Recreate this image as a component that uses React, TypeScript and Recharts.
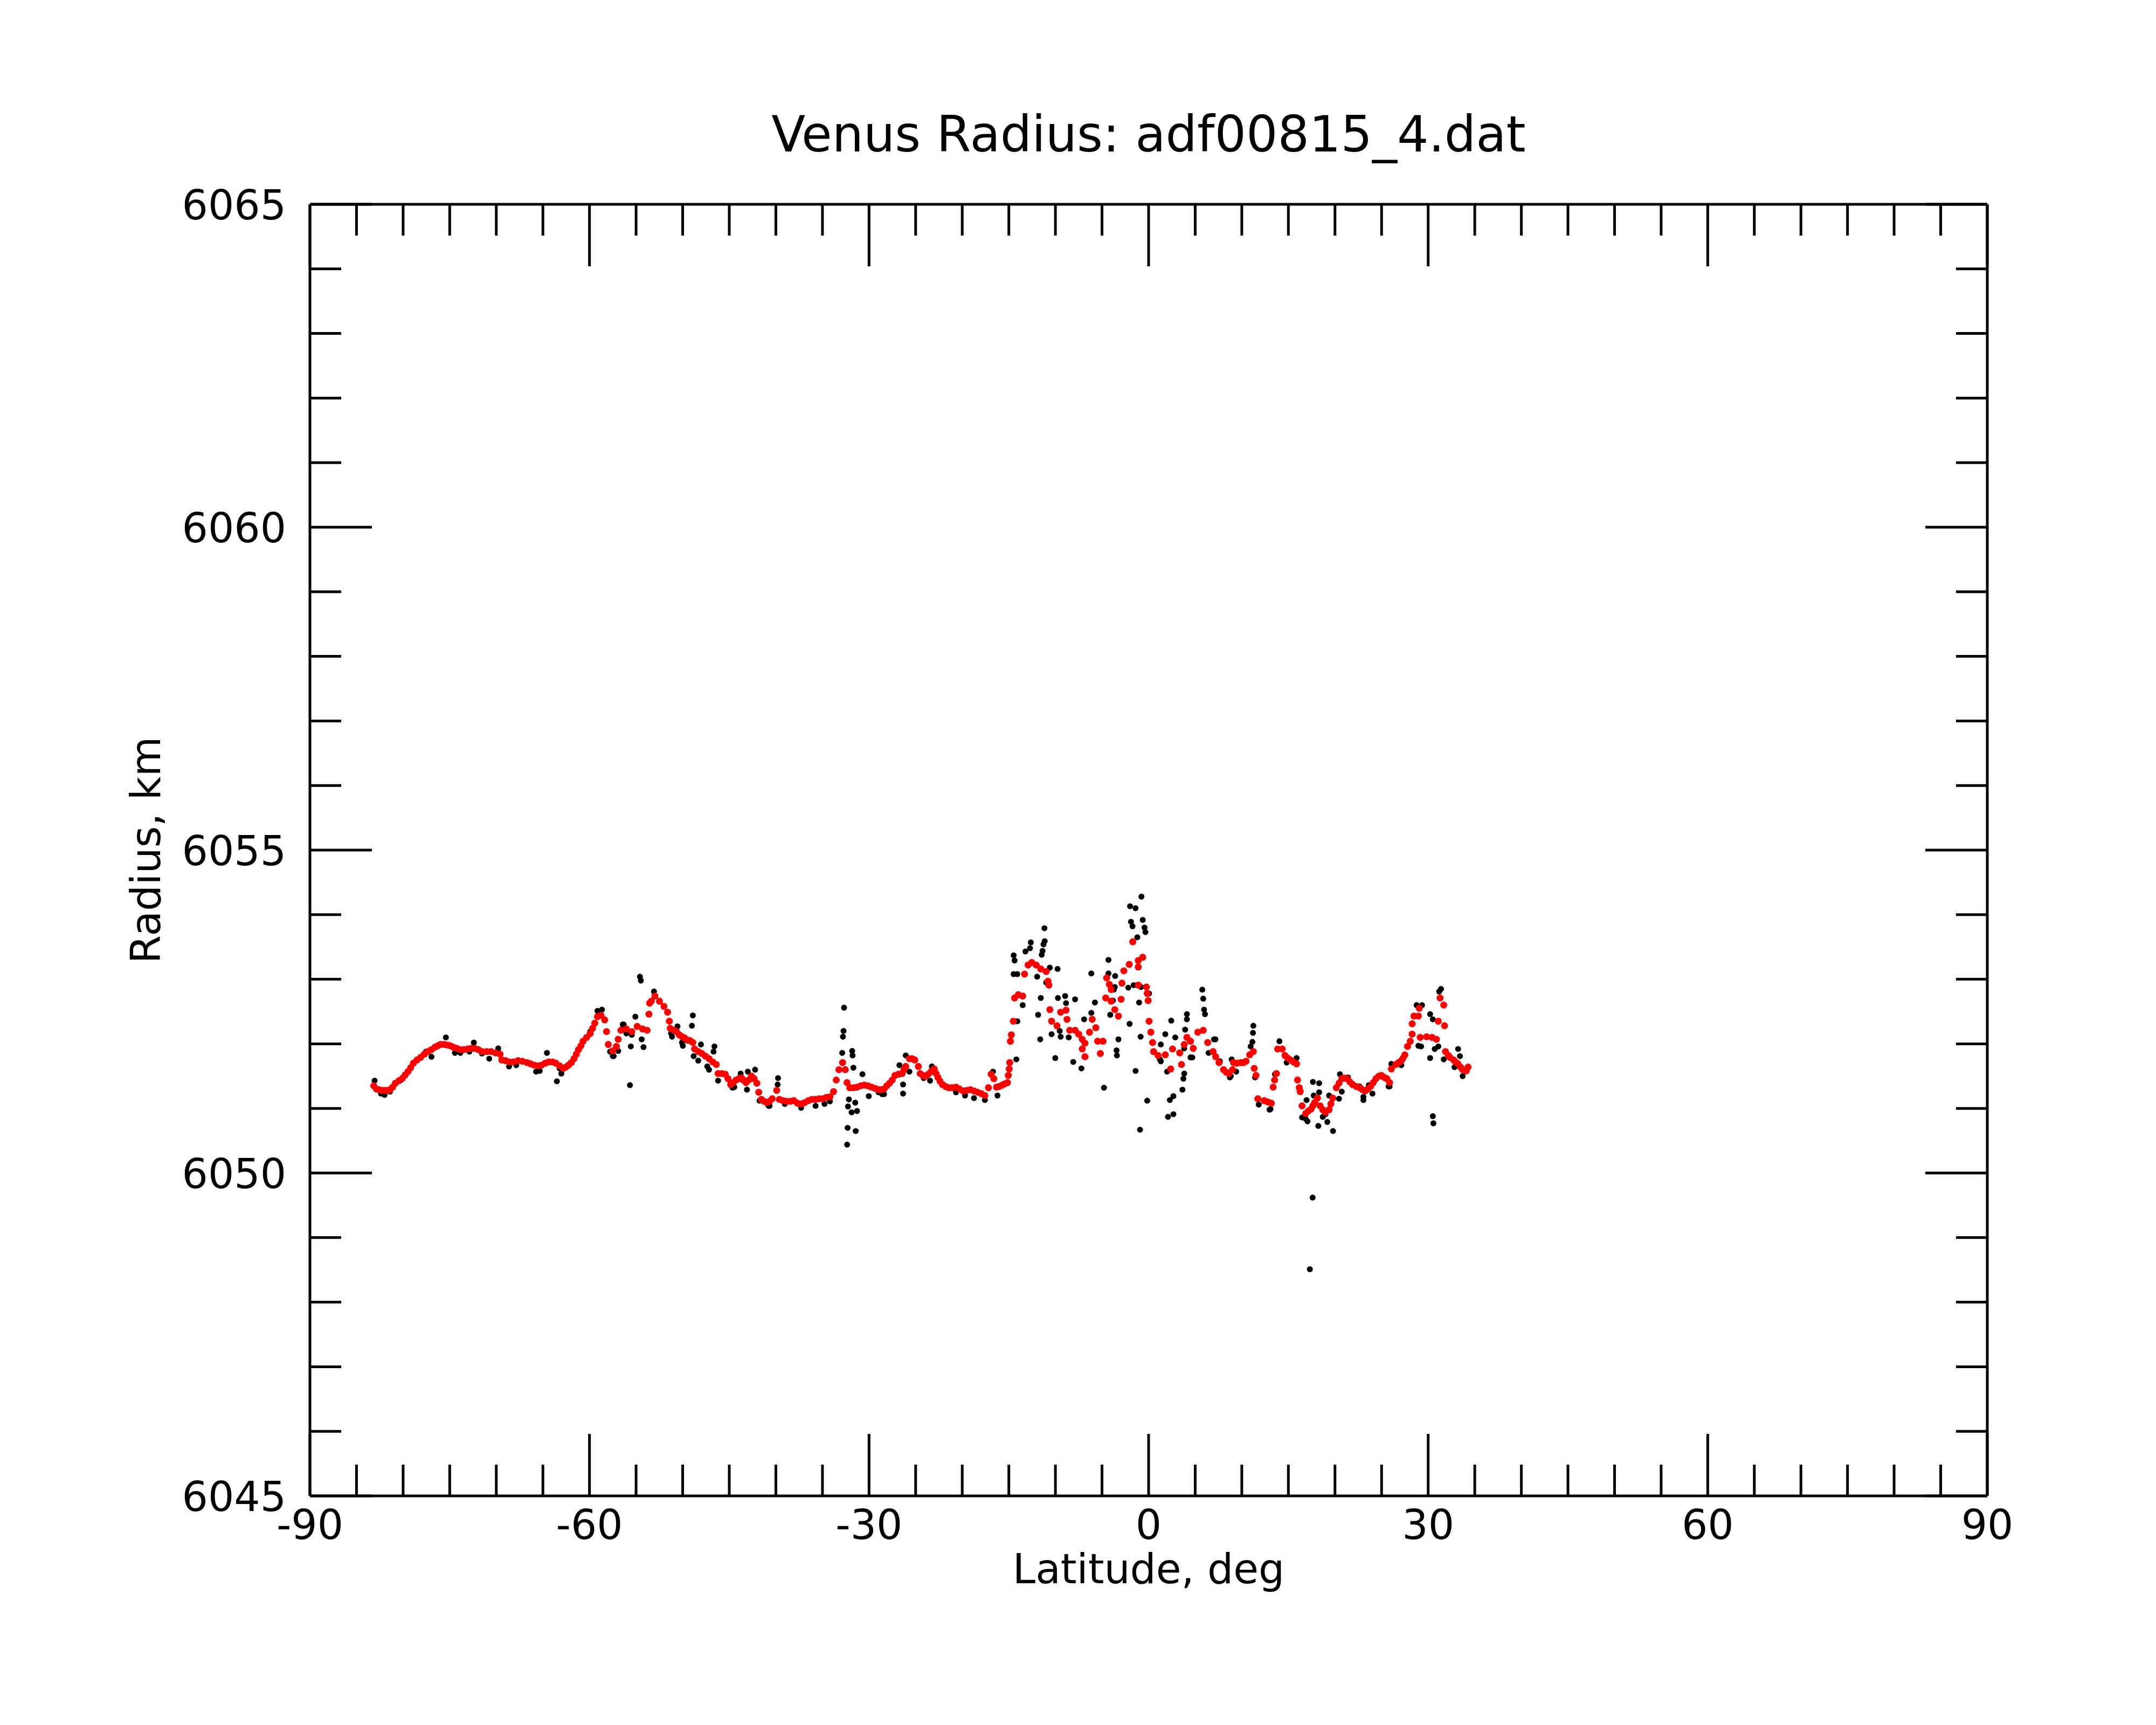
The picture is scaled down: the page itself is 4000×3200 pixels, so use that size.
import { Scatter, ScatterChart, XAxis, YAxis } from "recharts";

const FONT = "DejaVu Sans";

const latTicks = [
    -90, -85, -80, -75, -70, -65, -60, -55, -50, -45, -40, -35, -30, -25, -20, -15, -10, -5, 0,
    5, 10, 15, 20, 25, 30, 35, 40, 45, 50, 55, 60, 65, 70, 75, 80, 85, 90,
];
const latLabels = [-90, -60, -30, 0, 30, 60, 90];

const radiusTicks = [
    6045, 6046, 6047, 6048, 6049, 6050, 6051, 6052, 6053, 6054, 6055, 6056, 6057, 6058, 6059,
    6060, 6061, 6062, 6063, 6064, 6065,
];
const radiusLabels = [6045, 6050, 6055, 6060, 6065];

// [latitude, radius] of the smoothed (red) profile, south part
const smoothedSouth: [number, number][] = [
    [-83.15, 6051.35], [-82.86, 6051.3], [-82.57, 6051.29], [-82.28, 6051.28], [-81.99, 6051.28],
    [-81.7, 6051.28], [-81.41, 6051.29], [-81.12, 6051.33], [-80.83, 6051.39], [-80.44, 6051.43],
    [-80.06, 6051.47], [-79.77, 6051.52], [-79.48, 6051.57], [-79.19, 6051.63], [-78.9, 6051.7],
    [-78.51, 6051.75], [-78.12, 6051.79], [-77.73, 6051.84], [-77.35, 6051.88], [-76.96, 6051.91],
    [-76.57, 6051.95], [-76.28, 6051.97], [-75.99, 6051.99], [-75.6, 6051.99], [-75.22, 6051.98],
    [-74.93, 6051.97], [-74.63, 6051.95], [-74.25, 6051.93], [-73.86, 6051.91], [-73.47, 6051.91],
    [-73.09, 6051.92], [-72.7, 6051.93], [-72.31, 6051.93], [-71.92, 6051.91], [-71.54, 6051.88],
    [-71.05, 6051.88], [-70.57, 6051.88], [-70.08, 6051.86], [-69.6, 6051.84], [-69.41, 6051.75],
    [-69.02, 6051.74], [-68.63, 6051.72], [-68.15, 6051.72], [-67.66, 6051.74], [-67.18, 6051.73],
    [-66.7, 6051.71], [-66.31, 6051.69], [-65.92, 6051.67], [-65.53, 6051.66], [-65.15, 6051.67],
    [-64.76, 6051.7], [-64.37, 6051.72], [-63.98, 6051.72], [-63.6, 6051.7], [-63.21, 6051.66],
    [-62.82, 6051.62], [-62.53, 6051.64], [-62.24, 6051.67], [-61.95, 6051.71], [-61.66, 6051.77],
    [-61.41, 6051.84], [-61.18, 6051.91], [-60.92, 6051.97], [-60.69, 6052.04], [-60.3, 6052.1],
    [-59.92, 6052.16], [-59.67, 6052.24], [-59.43, 6052.32], [-59.14, 6052.42], [-58.76, 6052.44],
    [-58.37, 6052.37], [-58.17, 6052.19], [-57.98, 6051.99], [-57.5, 6051.89], [-57.11, 6051.96],
    [-56.92, 6052.07], [-56.63, 6052.21], [-56.04, 6052.23], [-55.46, 6052.19], [-54.88, 6052.27],
    [-54.3, 6052.23], [-53.82, 6052.21], [-53.62, 6052.46], [-53.55, 6052.63], [-53.37, 6052.66],
    [-52.98, 6052.74], [-52.49, 6052.66], [-52.01, 6052.58], [-51.62, 6052.49], [-51.43, 6052.35],
    [-51.33, 6052.24], [-50.95, 6052.21], [-50.66, 6052.19], [-50.36, 6052.14], [-50.07, 6052.11],
    [-49.78, 6052.09], [-49.49, 6052.06], [-49.2, 6052.05], [-48.91, 6052.02], [-48.72, 6051.92],
    [-48.33, 6051.88], [-47.94, 6051.85], [-47.56, 6051.81], [-47.17, 6051.77], [-46.78, 6051.72],
    [-46.39, 6051.68], [-46.2, 6051.54], [-45.81, 6051.54], [-45.43, 6051.53], [-45.14, 6051.46],
    [-44.85, 6051.37], [-44.56, 6051.4], [-44.27, 6051.44], [-43.97, 6051.46], [-43.68, 6051.47],
    [-43.49, 6051.44], [-43.2, 6051.4], [-42.91, 6051.44], [-42.62, 6051.5], [-42.33, 6051.46],
    [-42.04, 6051.39], [-41.84, 6051.25], [-41.55, 6051.14], [-41.26, 6051.11], [-40.97, 6051.09],
    [-40.68, 6051.11], [-40.39, 6051.15], [-39.91, 6051.28], [-39.62, 6051.14], [-39.23, 6051.12],
    [-38.84, 6051.11], [-38.45, 6051.11], [-38.07, 6051.12], [-37.68, 6051.08], [-37.29, 6051.07],
    [-36.91, 6051.09], [-36.52, 6051.12], [-36.13, 6051.14], [-35.74, 6051.14], [-35.36, 6051.15],
    [-34.97, 6051.15], [-34.58, 6051.17], [-34.2, 6051.18], [-33.81, 6051.26], [-33.52, 6051.44],
    [-33.23, 6051.6], [-32.84, 6051.71], [-32.55, 6051.6], [-32.36, 6051.4], [-32.07, 6051.32],
    [-31.68, 6051.32], [-31.29, 6051.33], [-30.9, 6051.35], [-30.52, 6051.36], [-30.13, 6051.35],
    [-29.74, 6051.33], [-29.35, 6051.31], [-28.97, 6051.29], [-28.68, 6051.29], [-28.39, 6051.3],
    [-28.1, 6051.35], [-27.8, 6051.39], [-27.51, 6051.44], [-27.22, 6051.51], [-26.84, 6051.53],
    [-26.45, 6051.54], [-26.26, 6051.6], [-26.06, 6051.65], [-25.67, 6051.77], [-25.38, 6051.77],
    [-25.09, 6051.75], [-24.71, 6051.65], [-24.51, 6051.54], [-24.22, 6051.51], [-23.93, 6051.5],
    [-23.64, 6051.53], [-23.35, 6051.57],
];

// smoothed profile, equatorial part
const smoothedEquator: [number, number][] = [
    [-23.0, 6051.61], [-22.8, 6051.54], [-22.61, 6051.48], [-22.38, 6051.42], [-22.13, 6051.37],
    [-21.8, 6051.34], [-21.45, 6051.32], [-21.06, 6051.32], [-20.67, 6051.33], [-20.29, 6051.3],
    [-19.9, 6051.27], [-19.51, 6051.28], [-19.12, 6051.29], [-18.74, 6051.27], [-18.35, 6051.25],
    [-17.96, 6051.23], [-17.57, 6051.2], [-17.19, 6051.32], [-16.9, 6051.53], [-16.61, 6051.46],
    [-16.32, 6051.33], [-16.03, 6051.34], [-15.73, 6051.36], [-15.44, 6051.38], [-15.15, 6051.4],
    [-15.06, 6051.51], [-14.96, 6051.61], [-14.9, 6051.71], [-14.83, 6052.04], [-14.73, 6052.14],
    [-14.51, 6052.35], [-14.38, 6052.71], [-13.99, 6052.76], [-13.51, 6052.74], [-13.31, 6053.08],
    [-12.93, 6053.22], [-12.54, 6053.26], [-12.06, 6053.22], [-11.57, 6053.16], [-10.99, 6053.12],
    [-10.8, 6052.97], [-10.7, 6052.91], [-10.6, 6052.53], [-10.41, 6052.35], [-9.83, 6052.28],
    [-9.44, 6052.49], [-8.86, 6052.52], [-8.76, 6052.38], [-8.47, 6052.21], [-7.89, 6052.21],
    [-7.5, 6052.15], [-7.12, 6052.07], [-7.12, 6051.92], [-6.83, 6052.01], [-6.83, 6051.8],
    [-6.34, 6052.18], [-6.05, 6052.38], [-5.66, 6052.25], [-5.47, 6052.04], [-5.18, 6051.85],
    [-4.89, 6052.04], [-4.6, 6052.71], [-4.5, 6053.02], [-4.21, 6052.92], [-4.02, 6052.84],
    [-4.02, 6052.66], [-3.63, 6052.53], [-3.24, 6052.43], [-2.95, 6052.69], [-2.86, 6052.94],
    [-2.66, 6053.13], [-2.08, 6053.23], [-1.7, 6053.58], [-1.11, 6053.29], [-1.11, 6053.19],
    [-1.11, 6052.91], [-0.63, 6053.34], [-0.24, 6052.88], [-0.15, 6052.78], [-0.05, 6052.67],
    [0.05, 6052.35], [0.24, 6052.18], [0.43, 6052.02], [0.53, 6051.88], [1.02, 6051.82],
    [1.79, 6051.83], [2.37, 6051.61], [2.57, 6051.92], [3.34, 6051.86], [3.53, 6051.68],
    [3.82, 6051.99], [4.11, 6052.1], [4.5, 6052.04], [4.79, 6051.93], [5.28, 6052.18],
    [5.86, 6052.21], [6.34, 6052.02], [6.92, 6051.88],
];

// smoothed profile, north part
const smoothedNorth: [number, number][] = [
    [7.2, 6051.8], [7.56, 6051.71], [8.04, 6051.6], [8.33, 6051.56], [8.62, 6051.54],
    [9.01, 6051.6], [9.11, 6051.71], [9.49, 6051.7], [9.88, 6051.71], [10.17, 6051.71],
    [10.46, 6051.73], [10.85, 6051.83], [11.24, 6051.88], [11.33, 6051.62], [11.53, 6051.51],
    [11.72, 6051.15], [12.4, 6051.12], [12.79, 6051.1], [13.17, 6051.08], [13.37, 6051.33],
    [13.52, 6051.44], [13.72, 6051.54], [13.85, 6051.92], [14.34, 6051.92], [14.63, 6051.82],
    [14.92, 6051.78], [15.21, 6051.75], [15.54, 6051.72], [15.88, 6051.69], [15.98, 6051.44],
    [16.17, 6051.32], [16.27, 6051.26], [16.47, 6051.04], [16.85, 6050.92], [17.14, 6050.96],
    [17.43, 6050.99], [17.63, 6051.04], [17.82, 6051.09], [18.11, 6051.16], [18.4, 6051.04],
    [18.69, 6050.98], [18.98, 6050.94], [19.37, 6050.98], [19.56, 6051.07], [19.76, 6051.16],
    [20.14, 6051.32], [20.43, 6051.39], [20.73, 6051.46], [21.02, 6051.47], [21.31, 6051.46],
    [21.6, 6051.41], [21.89, 6051.37], [22.27, 6051.34], [22.66, 6051.32], [22.95, 6051.29],
    [23.24, 6051.27], [23.53, 6051.3], [23.82, 6051.34], [24.11, 6051.4], [24.4, 6051.46],
    [24.7, 6051.5], [24.99, 6051.51], [25.28, 6051.48], [25.57, 6051.46], [25.86, 6051.4],
    [26.05, 6051.61], [26.53, 6051.68], [26.83, 6051.71], [27.12, 6051.74], [27.31, 6051.78],
    [27.5, 6051.83], [27.79, 6051.96], [28.08, 6052.04], [28.28, 6052.15], [28.28, 6052.31],
    [28.47, 6052.43], [28.95, 6052.43], [29.05, 6052.55], [29.15, 6052.1], [29.83, 6052.11],
    [30.41, 6052.1], [30.89, 6052.07], [31.09, 6052.35], [31.28, 6052.71], [31.67, 6052.6],
    [31.76, 6052.28], [31.86, 6051.88], [32.15, 6051.82], [32.34, 6051.79], [32.73, 6051.75],
    [32.93, 6051.72], [33.21, 6051.69], [33.47, 6051.64], [33.7, 6051.6], [34.09, 6051.58],
    [34.28, 6051.64],
];

// [latitude, radius] of the raw (black) measurements that show outside the red track
const raw: [number, number][] = [
    [-83.06, 6051.43], [-82.38, 6051.23], [-81.99, 6051.21], [-81.41, 6051.26], [-80.25, 6051.44],
    [-79.77, 6051.51], [-77.54, 6051.88], [-76.96, 6051.8], [-75.41, 6052.1], [-74.44, 6051.86],
    [-73.86, 6051.86], [-72.89, 6051.88], [-72.41, 6052.02], [-71.54, 6051.85], [-70.76, 6051.77],
    [-69.79, 6051.93], [-68.63, 6051.65], [-67.86, 6051.67], [-65.73, 6051.57], [-65.34, 6051.58],
    [-64.57, 6051.86], [-63.5, 6051.42], [-63.21, 6051.62], [-63.02, 6051.54], [-59.92, 6052.19],
    [-59.14, 6052.51], [-58.66, 6052.53], [-57.79, 6051.88], [-57.5, 6051.81], [-57.4, 6051.81],
    [-56.92, 6051.89], [-56.43, 6052.3], [-56.33, 6052.3], [-56.04, 6052.16], [-55.66, 6051.36],
    [-55.56, 6051.96], [-55.46, 6052.14], [-55.08, 6052.42], [-54.59, 6053.04], [-54.49, 6052.98],
    [-54.4, 6052.07], [-54.2, 6051.95],
    [-53.08, 6052.81], [-51.24, 6052.16], [-51.14, 6052.11], [-50.56, 6052.27], [-50.07, 6052.02],
    [-49.98, 6051.97], [-49.49, 6052.05], [-49.01, 6052.28], [-48.91, 6052.44], [-48.82, 6051.81],
    [-48.33, 6051.74], [-48.04, 6051.99], [-47.36, 6051.65], [-47.17, 6051.6], [-46.69, 6051.88],
    [-46.59, 6051.96], [-46.2, 6051.43], [-44.65, 6051.32], [-44.46, 6051.33], [-43.78, 6051.54],
    [-43.1, 6051.29], [-43.01, 6051.57], [-42.23, 6051.6], [-41.75, 6051.12], [-40.78, 6051.04],
    [-40.68, 6051.04], [-39.81, 6051.37], [-39.77, 6051.47], [-39.04, 6051.07], [-37.29, 6051.01],
    [-35.74, 6051.04], [-34.78, 6051.07], [-34.2, 6051.11], [-32.88, 6051.86], [-32.8, 6052.11],
    [-32.74, 6052.2], [-32.68, 6052.56], [-32.35, 6050.44], [-32.3, 6050.7], [-32.26, 6051.03],
    [-32.16, 6051.14], [-31.87, 6050.94], [-31.81, 6051.89], [-31.77, 6051.82], [-31.68, 6051.63],
    [-31.48, 6051.09], [-31.43, 6050.65], [-31.29, 6050.96], [-30.71, 6051.53], [-30.03, 6051.19],
    [-28.97, 6051.25], [-28.58, 6051.22], [-28.39, 6051.22], [-26.74, 6051.67], [-26.35, 6051.37],
    [-26.35, 6051.23], [-26.06, 6051.82], [-25.67, 6051.57], [-24.13, 6051.47], [-23.45, 6051.43],
    [-23.26, 6051.65],
    [-20.67, 6051.25], [-19.7, 6051.2], [-18.74, 6051.16], [-17.57, 6051.13], [-16.7, 6051.57],
    [-16.22, 6051.2], [-14.48, 6053.37], [-14.38, 6053.29], [-14.48, 6053.08], [-14.19, 6051.76],
    [-14.09, 6053.08], [-14.09, 6052.35], [-13.51, 6052.6], [-13.22, 6053.43], [-12.73, 6053.48],
    [-12.64, 6053.57], [-11.96, 6053.04], [-11.86, 6052.45], [-11.63, 6052.07], [-11.57, 6052.71],
    [-11.47, 6053.38], [-11.38, 6053.44], [-11.28, 6053.54], [-11.18, 6053.79], [-11.15, 6053.59],
    [-10.99, 6052.95], [-10.6, 6053.18], [-10.41, 6052.15], [-10.02, 6051.78], [-9.77, 6053.16],
    [-9.73, 6052.71], [-9.54, 6052.2], [-9.44, 6052.11], [-8.96, 6052.74], [-8.86, 6052.63],
    [-8.57, 6052.1], [-8.09, 6051.72], [-7.89, 6052.69], [-7.21, 6051.62], [-6.92, 6052.38],
    [-6.15, 6052.48], [-6.15, 6053.09], [-5.76, 6052.64], [-4.79, 6051.32], [-4.31, 6053.3],
    [-4.31, 6053.09], [-4.12, 6052.45], [-3.83, 6052.67], [-3.73, 6052.84], [-3.63, 6052.88],
    [-3.59, 6053.05], [-3.44, 6051.9], [-3.4, 6051.82], [-3.24, 6052.07], [-2.18, 6052.87],
    [-2.04, 6052.31], [-1.99, 6054.13], [-1.89, 6053.89], [-1.73, 6053.82], [-1.6, 6052.91],
    [-1.4, 6054.1], [-1.4, 6051.58], [-1.21, 6053.65], [-1.02, 6052.64], [-0.92, 6050.67],
    [-0.86, 6052.11], [-0.82, 6052.88], [-0.77, 6054.28], [-0.63, 6053.92], [-0.44, 6053.8],
    [-0.34, 6053.73], [-0.15, 6051.12], [0.05, 6052.78], [1.21, 6051.76], [1.31, 6051.73],
    [1.31, 6051.99], [1.79, 6052.15], [1.98, 6051.57], [2.08, 6050.87], [2.28, 6051.13],
    [2.43, 6052.36], [2.66, 6050.91], [2.66, 6051.19], [2.86, 6052.1], [3.63, 6051.29],
    [3.73, 6051.46], [3.82, 6051.54], [3.82, 6051.93], [3.92, 6052.22], [4.11, 6052.46],
    [4.11, 6052.38], [4.5, 6051.79], [4.69, 6051.79], [5.76, 6052.84], [5.86, 6052.7],
    [5.95, 6052.53], [6.05, 6052.46], [6.44, 6051.86], [7.02, 6052.07],
    [7.17, 6052.07], [7.65, 6051.73], [8.72, 6051.48], [8.82, 6051.5], [8.91, 6051.76],
    [9.4, 6051.57], [10.95, 6051.96], [11.14, 6052.03], [11.2, 6052.17], [11.24, 6052.28],
    [11.43, 6051.48], [11.82, 6051.06], [12.98, 6050.98], [13.08, 6050.99], [13.56, 6051.53],
    [14.04, 6052.04], [14.82, 6051.71], [15.88, 6051.78], [16.47, 6050.86], [16.85, 6050.84],
    [16.95, 6051.13], [17.05, 6050.8], [17.3, 6048.51], [17.6, 6049.62], [17.63, 6051.41],
    [17.72, 6051.2], [18.21, 6050.73], [18.3, 6051.39], [18.3, 6051.25], [18.69, 6050.87],
    [18.98, 6050.91], [19.18, 6050.79], [19.37, 6051.2], [19.79, 6050.65], [20.43, 6051.15],
    [20.53, 6051.53], [20.73, 6051.26], [21.4, 6051.48], [22.66, 6051.34], [23.05, 6051.13],
    [23.05, 6051.18], [23.63, 6051.36], [24.02, 6051.23], [25.76, 6051.34], [25.86, 6051.34],
    [26.05, 6051.69], [27.12, 6051.67], [28.76, 6052.6], [28.95, 6051.97], [29.24, 6051.96],
    [29.34, 6052.6], [30.21, 6052.46], [30.21, 6051.78], [30.5, 6052.38], [30.5, 6050.88],
    [30.56, 6050.77], [30.7, 6051.92], [31.09, 6051.96], [31.18, 6052.81], [31.38, 6052.85],
    [31.67, 6051.76], [32.83, 6051.64], [33.21, 6051.92], [33.41, 6051.81], [33.7, 6051.5],
];

const rawPoints = raw.map(([lat, radius]) => ({ lat, radius }));
const smoothedPoints = [...smoothedSouth, ...smoothedEquator, ...smoothedNorth].map(([lat, radius]) => ({ lat, radius }));

const MAJOR = 115;
const MINOR = 58;
const STROKE = 5;

const BottomTick = ({ x, y, payload }: any) => {
    const major = latLabels.includes(payload.value);
    return (
        <g>
            <line x1={x} y1={y} x2={x} y2={y - (major ? MAJOR : MINOR)} stroke="#000" strokeWidth={STROKE} />
            {major && (
                <text x={x} y={y + 80} textAnchor="middle" fontSize={76} fontFamily={FONT} fill="#000">
                    {payload.value}
                </text>
            )}
        </g>
    );
};

const TopTick = ({ x, y, payload }: any) => {
    const major = latLabels.includes(payload.value);
    return <line x1={x} y1={y} x2={x} y2={y + (major ? MAJOR : MINOR)} stroke="#000" strokeWidth={STROKE} />;
};

const LeftTick = ({ x, y, payload }: any) => {
    const major = radiusLabels.includes(payload.value);
    return (
        <g>
            <line x1={x} y1={y} x2={x + (major ? MAJOR : MINOR)} y2={y} stroke="#000" strokeWidth={STROKE} />
            {major && (
                <text x={x - 44} y={y + 28} textAnchor="end" fontSize={76} fontFamily={FONT} fill="#000">
                    {payload.value}
                </text>
            )}
        </g>
    );
};

const RightTick = ({ x, y, payload }: any) => {
    const major = radiusLabels.includes(payload.value);
    return <line x1={x} y1={y} x2={x - (major ? MAJOR : MINOR)} y2={y} stroke="#000" strokeWidth={STROKE} />;
};

const blackDot = (p: any) => <circle cx={p.cx} cy={p.cy} r={5.5} fill="#000" />;
const redDot = (p: any) => <circle cx={p.cx} cy={p.cy} r={6.5} fill="#ff0000" />;

const axisLine = { stroke: "#000", strokeWidth: STROKE };

const App = () => {
    return (
        <div style={{ position: "absolute", left: 0, top: 0, width: 4000, height: 3200, background: "#fff" }}>
            <ScatterChart width={4000} height={3200} margin={{ top: 378, right: 312, bottom: 225, left: 375 }}>
                <XAxis
                    xAxisId="bottom"
                    type="number"
                    dataKey="lat"
                    orientation="bottom"
                    domain={[-90, 90]}
                    allowDataOverflow
                    ticks={latTicks}
                    interval={0}
                    height={200}
                    axisLine={axisLine}
                    tickLine={false}
                    tickSize={0}
                    tickMargin={0}
                    tick={<BottomTick />}
                />
                <XAxis
                    xAxisId="top"
                    type="number"
                    dataKey="lat"
                    orientation="top"
                    domain={[-90, 90]}
                    allowDataOverflow
                    ticks={latTicks}
                    interval={0}
                    height={1}
                    axisLine={axisLine}
                    tickLine={false}
                    tickSize={0}
                    tickMargin={0}
                    tick={<TopTick />}
                />
                <YAxis
                    yAxisId="left"
                    type="number"
                    dataKey="radius"
                    orientation="left"
                    domain={[6045, 6065]}
                    allowDataOverflow
                    ticks={radiusTicks}
                    interval={0}
                    width={200}
                    axisLine={axisLine}
                    tickLine={false}
                    tickSize={0}
                    tickMargin={0}
                    tick={<LeftTick />}
                />
                <YAxis
                    yAxisId="right"
                    type="number"
                    dataKey="radius"
                    orientation="right"
                    domain={[6045, 6065]}
                    allowDataOverflow
                    ticks={radiusTicks}
                    interval={0}
                    width={1}
                    axisLine={axisLine}
                    tickLine={false}
                    tickSize={0}
                    tickMargin={0}
                    tick={<RightTick />}
                />
                {/* raw on bottom/left axes, smoothed on top/right axes (identical ranges) */}
                <Scatter xAxisId="bottom" yAxisId="left" data={rawPoints} fill="#000" shape={blackDot} isAnimationActive={false} />
                <Scatter xAxisId="top" yAxisId="right" data={smoothedPoints} fill="#ff0000" shape={redDot} isAnimationActive={false} />
            </ScatterChart>
            <svg width={4000} height={3200} style={{ position: "absolute", left: 0, top: 0, pointerEvents: "none" }}>
                <text x={2131} y={281} textAnchor="middle" fontSize={92} fontFamily={FONT} fill="#000">
                    Venus Radius: adf00815_4.dat
                </text>
                <text x={2131} y={2937} textAnchor="middle" fontSize={76} fontFamily={FONT} fill="#000">
                    Latitude, deg
                </text>
                <text transform="translate(297 1577) rotate(-90)" textAnchor="middle" fontSize={76} fontFamily={FONT} fill="#000">
                    Radius, km
                </text>
            </svg>
        </div>
    );
};

export default App;
